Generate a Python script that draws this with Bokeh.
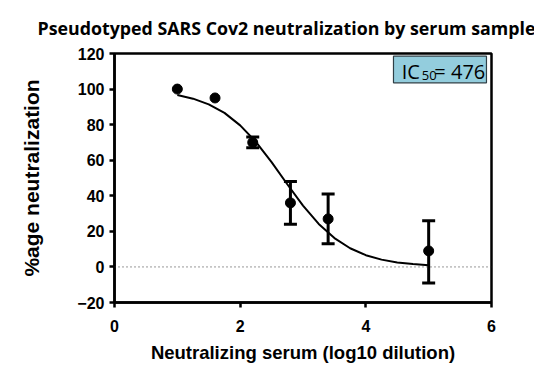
from bokeh.plotting import figure
from bokeh.models import (Whisker, ColumnDataSource, Span, BoxAnnotation, Label,
                          FixedTicker, Range1d, TeeHead)
from bokeh.embed import file_html
from bokeh.resources import INLINE

# ---- data ----
dilution = [1.0, 1.6, 2.2, 2.8, 3.4, 5.0]
neutralization = [100, 95, 70, 36, 27, 9]
err_upper = [100, 95, 73, 48, 41, 26]
err_lower = [100, 95, 67, 24, 13, -9]

fit_x = [1.0, 1.25, 1.5, 1.75, 2.0, 2.25, 2.5, 2.75, 3.0, 3.25, 3.5, 3.75,
         4.0, 4.25, 4.5, 4.75, 5.0]
fit_y = [96.7, 94.6, 91.4, 86.6, 79.6, 70.3, 58.9, 46.5, 34.5, 24.2, 16.2,
         10.5, 6.6, 4.1, 2.5, 1.6, 0.9]

x_ticks = [0, 2, 4, 6]
y_ticks = [-20, 0, 20, 40, 60, 80, 100, 120]

title_text = "Pseudotyped SARS Cov2 neutralization by serum sample"
x_label = "Neutralizing serum (log10 dilution)"
y_label = "%age neutralization"
ic50_value = "= 476"

# ---- figure ----
p = figure(width=534, height=365, x_range=Range1d(0, 6), y_range=Range1d(-20, 120),
           output_backend="svg", toolbar_location=None,
           min_border_left=114, min_border_right=43, min_border_top=53,
           min_border_bottom=62)

p.title.text = title_text
p.title.text_font = "Open Sans"
p.title.text_font_style = "bold"
p.title.text_font_size = "17.8px"
p.title.text_color = "black"
p.title.align = "left"
p.title.offset = -77
p.title.standoff = 27

p.xgrid.visible = False
p.ygrid.visible = False
p.outline_line_color = "black"
p.outline_line_width = 2.5
p.outline_line_alpha = 1

for ax in (p.xaxis[0], p.yaxis[0]):
    ax.axis_line_width = 2.5
    ax.axis_line_color = "black"
    ax.major_tick_line_width = 2.5
    ax.major_tick_line_color = "black"
    ax.major_tick_out = 5
    ax.major_tick_in = 0
    ax.minor_tick_line_color = None
    ax.major_label_text_font = "Liberation Sans"
    ax.major_label_text_font_style = "bold"
    ax.major_label_text_font_size = "16px"
    ax.major_label_text_color = "black"
    ax.axis_label_text_font = "Liberation Sans"
    ax.axis_label_text_font_style = "bold"
    ax.axis_label_text_color = "black"

p.xaxis.axis_label_text_font_size = "18.5px"
p.yaxis.axis_label_text_font_size = "21px"
p.xaxis.ticker = FixedTicker(ticks=x_ticks)
p.yaxis.ticker = FixedTicker(ticks=y_ticks)
p.xaxis.axis_label = x_label
p.yaxis.axis_label = y_label
p.xaxis.major_label_standoff = 12
p.yaxis.major_label_standoff = 5
p.xaxis.axis_label_standoff = 7
p.yaxis.axis_label_standoff = 31

# zero line
p.add_layout(Span(location=0, dimension="width", line_color="#333333",
                  line_width=1, line_dash="1 3"))

# fitted curve
p.line(fit_x, fit_y, line_color="black", line_width=2)

# error bars (only where there is an error)
ex, eu, el = [], [], []
for xv, u, l in zip(dilution, err_upper, err_lower):
    if u != l:
        ex.append(xv); eu.append(u); el.append(l)
esrc = ColumnDataSource(dict(x=ex, upper=eu, lower=el))
p.add_layout(Whisker(source=esrc, base="x", upper="upper", lower="lower",
                     line_width=3, line_color="black",
                     upper_head=TeeHead(size=13, line_width=3, line_color="black"),
                     lower_head=TeeHead(size=13, line_width=3, line_color="black")))

# points
p.scatter(dilution, neutralization, size=10, color="black")

# IC50 box
p.add_layout(BoxAnnotation(left=4.44, right=5.92, bottom=103.5, top=118.5,
                           fill_color="#93cddd", fill_alpha=1,
                           line_color="#2f3f46", line_alpha=1, line_width=1.2))
p.add_layout(Label(x=4.57, y=109.6, text="IC", text_font="Open Sans",
                   text_font_size="20px", text_color="black",
                   text_baseline="alphabetic"))
p.add_layout(Label(x=4.89, y=107.8, text="50", text_font="Open Sans",
                   text_font_size="13px", text_color="black",
                   text_baseline="alphabetic"))
p.add_layout(Label(x=5.09, y=109.6, text=ic50_value, text_font="Open Sans",
                   text_font_size="20px", text_color="black",
                   text_baseline="alphabetic"))

open("out.html", "w").write(file_html(p, INLINE))
